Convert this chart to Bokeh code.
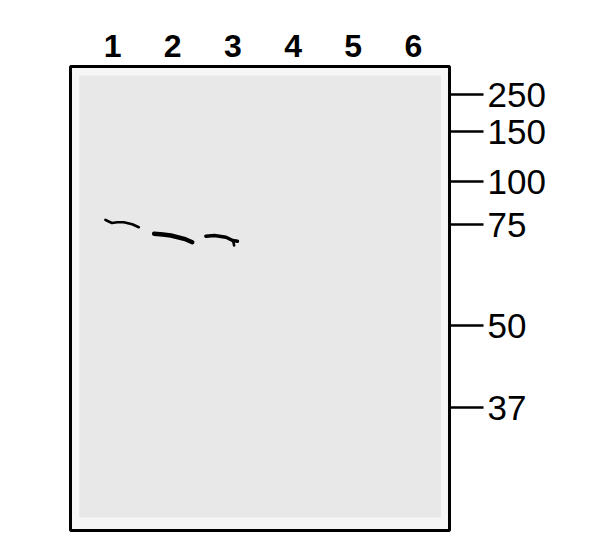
from bokeh.plotting import figure
from bokeh.models import FixedTicker, Range1d, ColumnDataSource
from bokeh.embed import file_html
from bokeh.resources import INLINE

# lanes on the blot
lanes = [1, 2, 3, 4, 5, 6]
lane_labels = ["1", "2", "3", "4", "5", "6"]

# molecular weight ladder (kDa) and its migration distance (from top of blot)
marker_labels = ["250", "150", "100", "75", "50", "37"]
marker_pos = [28, 65, 115, 158, 259, 341]

# bands as traced strokes: x in lane units, y as migration distance
band1_x = [0.88, 0.935, 0.99, 1.075, 1.186, 1.326, 1.436]
band1_y = [153.3, 155.0, 156.5, 155.7, 155.7, 157.7, 160.7]
band2_x = [1.69, 1.835, 1.968, 2.19, 2.325]
band2_y = [167.3, 168.0, 169.0, 172.3, 175.7]
band3_x = [2.55, 2.69, 2.885, 2.995, 3.075]
band3_y = [169.7, 169.0, 170.7, 174.0, 174.7]
band3_tail_x = [3.0, 3.02]
band3_tail_y = [173.5, 179.0]

p = figure(width=590, height=540, output_backend="svg", toolbar_location=None,
           x_range=Range1d(0.3, 6.6), y_range=Range1d(464, 0),
           x_axis_location="above", y_axis_location="right",
           min_border_left=70, min_border_right=141,
           min_border_top=66, min_border_bottom=10)

p.background_fill_color = "#f6f6f6"
p.border_fill_color = "white"
p.outline_line_color = "black"
p.outline_line_width = 3
p.xgrid.visible = False
p.ygrid.visible = False

# membrane
p.quad(left=[0.445], right=[6.46], top=[9], bottom=[451],
       fill_color="#e8e8e8", line_color=None)

# bands
src = ColumnDataSource(data={
    'xs': [band1_x, band2_x, band3_x, band3_tail_x],
    'ys': [band1_y, band2_y, band3_y, band3_tail_y],
    'w': [2.6, 4.4, 3.5, 2.6],
})
p.multi_line(xs='xs', ys='ys', line_width='w', source=src,
             line_color="black", line_cap="round", line_join="round")

# lane numbers on top
xa = p.xaxis[0]
xa.ticker = FixedTicker(ticks=lanes)
xa.major_label_overrides = {l: t for l, t in zip(lanes, lane_labels)}
xa.axis_line_color = None
xa.major_tick_line_color = None
xa.minor_tick_line_color = None
xa.major_tick_out = 0
xa.major_tick_in = 0
xa.major_label_standoff = 10
xa.major_label_text_font = "Liberation Sans"
xa.major_label_text_font_style = "bold"
xa.major_label_text_font_size = "32px"
xa.major_label_text_color = "black"

# marker ladder on the right
ya = p.yaxis[0]
ya.ticker = FixedTicker(ticks=marker_pos)
ya.major_label_overrides = {m: t for m, t in zip(marker_pos, marker_labels)}
ya.axis_line_color = None
ya.minor_tick_line_color = None
ya.major_tick_line_color = "black"
ya.major_tick_line_width = 2.5
ya.major_tick_out = 34
ya.major_tick_in = 0
ya.major_label_standoff = 4
ya.major_label_text_font = "Liberation Sans"
ya.major_label_text_font_size = "35px"
ya.major_label_text_color = "black"

open("out.html", "w").write(file_html(p, INLINE))
